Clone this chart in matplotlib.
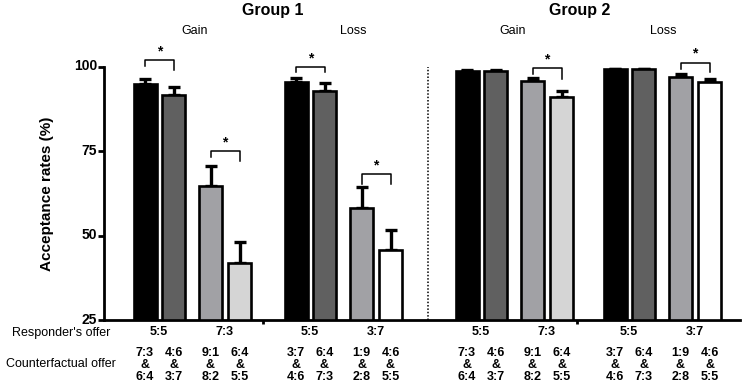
import matplotlib.pyplot as plt
import matplotlib.transforms as mtransforms

plt.rcParams['font.family'] = ['Liberation Sans', 'DejaVu Sans']

# mean acceptance rates, 4 bars per block (Group1 Gain, Group1 Loss, Group2 Gain, Group2 Loss)
means = [
    [95.0, 91.7, 64.6, 42.0],
    [95.5, 92.9, 58.3, 45.8],
    [98.8, 98.7, 95.8, 91.0],
    [99.4, 99.4, 97.0, 95.5],
]
errs = [
    [1.4, 2.3, 6.2, 6.0],
    [1.2, 2.3, 6.0, 6.0],
    [0.2, 0.3, 0.9, 1.9],
    [0.1, 0.1, 0.9, 0.9],
]
block_titles = ['Gain', 'Loss', 'Gain', 'Loss']
group_titles = ['Group 1', 'Group 2']
responder = [['5:5', '7:3'], ['5:5', '3:7'], ['5:5', '7:3'], ['5:5', '3:7']]
counterfactual = [
    ['7:3\n&\n6:4', '4:6\n&\n3:7', '9:1\n&\n8:2', '6:4\n&\n5:5'],
    ['3:7\n&\n4:6', '6:4\n&\n7:3', '1:9\n&\n2:8', '4:6\n&\n5:5'],
    ['7:3\n&\n6:4', '4:6\n&\n3:7', '9:1\n&\n8:2', '6:4\n&\n5:5'],
    ['3:7\n&\n4:6', '6:4\n&\n7:3', '1:9\n&\n2:8', '4:6\n&\n5:5'],
]
# significance brackets: (block, bar a, bar b, top height, left leg, right leg)
brackets = [
    (0, 0, 1, 102.0, 100.3, 99.1),
    (0, 2, 3, 75.0, 73.2, 72.0),
    (1, 0, 1, 100.0, 98.5, 98.5),
    (1, 2, 3, 68.2, 65.2, 65.2),
    (2, 2, 3, 99.7, 98.0, 96.4),
    (3, 2, 3, 101.2, 99.4, 98.5),
]

colors = ['#000000', '#606060', '#a1a1a5', '#d5d5d5']
last_colors = ['#d5d5d5', '#ffffff', '#d5d5d5', '#ffffff']

# layout (x in pixels from the left spine)
block_start = [41, 192, 363, 511]
offsets = [0, 28.5, 65.5, 94.5]
bw = 23

W, H = 743, 386
fig = plt.figure(figsize=(W / 100, H / 100), dpi=100)
ax = fig.add_axes([104 / W, 1 - 320 / H, 636 / W, 253 / H])
ax.set_xlim(0, 636)
ax.set_ylim(25, 100)

for b in range(4):
    xs = [block_start[b] + o for o in offsets]
    cols = colors[:3] + [last_colors[b]]
    ax.bar(xs, [m - 25 for m in means[b]], bottom=25, width=bw, color=cols,
           edgecolor='black', linewidth=1.9, zorder=3)
    ax.errorbar(xs, means[b], yerr=[[0] * 4, errs[b]], fmt='none', ecolor='black',
                elinewidth=2.4, capsize=4.5, capthick=2.4, zorder=2)

for blk, a, c, top, l1, l2 in brackets:
    xa = block_start[blk] + offsets[a]
    xb = block_start[blk] + offsets[c]
    ax.plot([xa, xa, xb, xb], [l1, top, top, l2], color='black', lw=1.1,
            clip_on=False, zorder=4)
    ax.text((xa + xb) / 2, top + 0.6, '*', ha='center', va='bottom',
            fontsize=10, fontweight='bold')

ax.plot([324, 324], [25, 100], color='black', lw=1.1, ls=(0, (1, 1.2)), clip_on=False)

for s in ['top', 'right']:
    ax.spines[s].set_visible(False)
for s in ['left', 'bottom']:
    ax.spines[s].set_linewidth(2)
ax.set_yticks([25, 50, 75, 100])
ax.set_yticklabels(['25', '50', '75', '100'], fontweight='bold', fontsize=10)
ax.tick_params(axis='y', length=4, width=2, pad=1)
shift = mtransforms.ScaledTranslation(0, 2 / 100, fig.dpi_scale_trans)
for lab in ax.get_yticklabels():
    lab.set_transform(lab.get_transform() + shift)
ax.set_xticks([159, 473])
ax.set_xticklabels(['', ''])
ax.tick_params(axis='x', length=3, width=2)
ax.set_ylabel('Acceptance rates (%)', fontweight='bold', fontsize=11, labelpad=14)


def fx(px):
    return px / W


def fy(py):
    return 1 - py / H


block_cx = [195, 353, 513, 663]
for b in range(4):
    fig.text(fx(block_cx[b]), fy(31), block_titles[b], ha='center', va='center', fontsize=9)
for g, cx in enumerate([273, 580]):
    fig.text(fx(cx), fy(11), group_titles[g], ha='center', va='center',
             fontsize=11.5, fontweight='bold')

fig.text(fx(61), fy(333), "Responder's offer", ha='center', va='center', fontsize=9)
fig.text(fx(61), fy(364), 'Counterfactual offer', ha='center', va='center', fontsize=9)

for b in range(4):
    xs = [104 + block_start[b] + o for o in offsets]
    for k in range(2):
        fig.text(fx((xs[2 * k] + xs[2 * k + 1]) / 2), fy(332), responder[b][k],
                 ha='center', va='center', fontsize=9, fontweight='bold')
    for k in range(4):
        fig.text(fx(xs[k]), fy(365), counterfactual[b][k], ha='center', va='center',
                 fontsize=9, fontweight='bold', linespacing=0.95)

fig.savefig('out.png', dpi=100)
